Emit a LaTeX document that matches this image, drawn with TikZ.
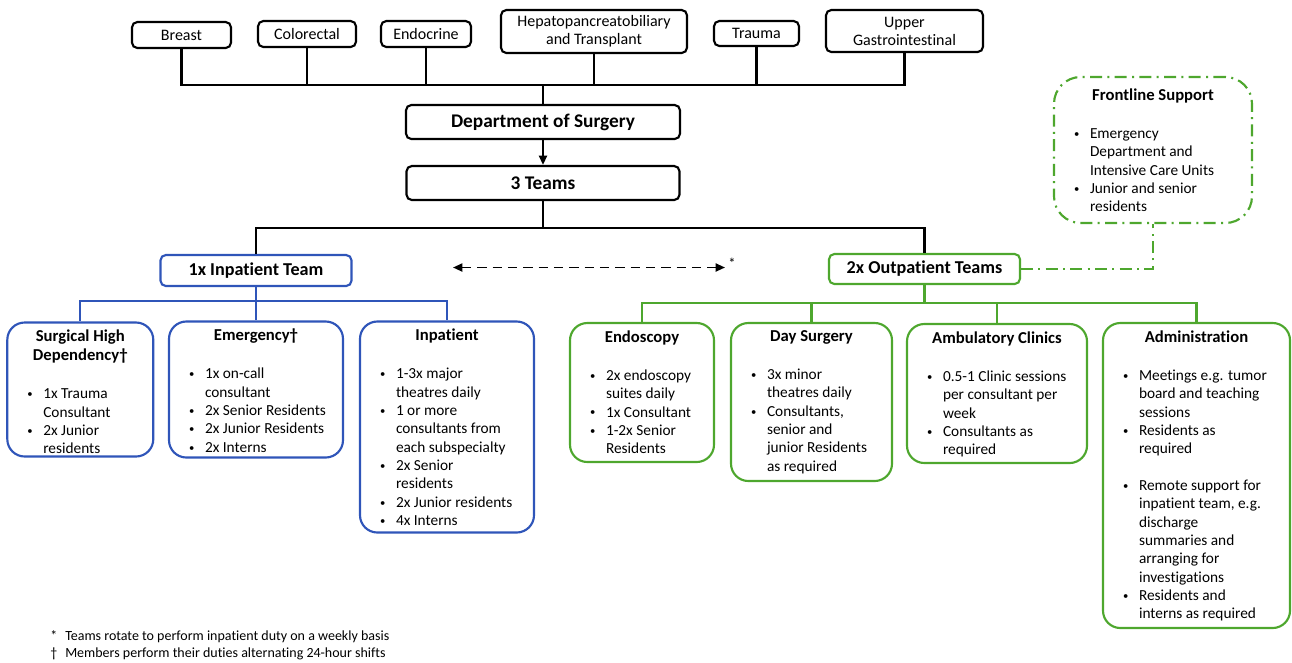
\documentclass[tikz,border=0pt]{standalone}
\usepackage{fontspec}
\setmainfont{Carlito}[Ligatures=NoCommon]
\usetikzlibrary{arrows.meta}
\definecolor{inblue}{RGB}{47,85,185}
\definecolor{outgreen}{RGB}{78,167,46}
\newdimen\px \px=0.75pt
\newcommand{\bu}{\makebox[16\px][l]{\raisebox{0.8pt}{\fontsize{8}{8}\selectfont\textbullet}}&}
% width, height, title, bullet rows
\newcommand{\unitbox}[4]{\parbox[c][#2\px][t]{#1\px}{\vspace*{1pt}\centering\fontsize{12.5}{14.25}\selectfont\bfseries #3\par
  \vspace{15pt}\raggedright\fontsize{11.5}{13.75}\selectfont\mdseries
  \begin{tabular}[t]{@{\hspace{14\px}}l@{}l@{}}#4\end{tabular}}}
\tikzset{
  link/.style={line width=1.6pt},
  inlink/.style={link, draw=inblue},
  outlink/.style={link, draw=outgreen},
  frontlink/.style={outlink, dash pattern=on 9pt off 4pt on 1.5pt off 4pt},
  spec/.style={draw, line width=1.6pt, rounded corners=4pt, align=center, inner sep=0pt, font=\fontsize{12}{13.5}\selectfont},
  head/.style={draw, line width=1.6pt, rounded corners=4pt, minimum height=34\px, font=\fontsize{14.5}{16}\selectfont\bfseries},
  teamin/.style={draw=inblue, line width=1.6pt, rounded corners=4pt, minimum width=191\px, minimum height=31\px, font=\fontsize{13.6}{15}\selectfont\bfseries},
  teamout/.style={teamin, draw=outgreen, minimum height=30\px},
  inunit/.style={draw=inblue, line width=1.6pt, rounded corners=13pt, inner sep=6\px},
  outunit/.style={inunit, draw=outgreen},
}
\begin{document}
\begin{tikzpicture}[x=0.75pt, y=-0.75pt, font=\fontsize{11.5}{13.75}\selectfont]
\useasboundingbox (0,0) rectangle (1292,662);

% subspecialties
\foreach \i/\x/\y/\w/\h/\t in {1/181.5/35/99/26/Breast, 2/307/34/98/26/Colorectal,
    3/426/34/90/26/Endocrine, 4/594/31.5/186/43/{Hepatopancreatobiliary\\and Transplant},
    5/756.5/33.5/85/25/Trauma, 6/904.5/31/157/42/{Upper\\Gastrointestinal}} {
  \node[spec, minimum width=\w\px, minimum height=\h\px] (S\i) at (\x,\y) {\t};
}
\coordinate (bus) at (543,85);
\foreach \i in {1,...,6} {
  \draw[link] (S\i.south) |- (bus);
}

\node[head, minimum width=274\px] (dept) at (543,122) {Department of Surgery};
\node[head, minimum width=273\px] (teams) at (543,183) {3 Teams};
\draw[link] (bus) -- (dept.north);
\draw[link, -{Triangle[length=7pt, width=6pt]}] (dept) -- (teams);

\node[teamin] (inp) at (256,270.5) {1x Inpatient Team};
\node[teamout] (outp) at (924.5,269) {2x Outpatient Teams};
\coordinate (split) at (543,228);
\draw[link] (teams) -- (split);
\draw[link] (split) -| (inp.north);
\draw[link] (split) -| (outp.north);

% rotation between teams
\coordinate (rl) at (453,267.5);
\coordinate (rr) at (725,267.5);
\draw[line width=1.4pt, dash pattern=on 7pt off 4.5pt, {Triangle[length=7pt, width=6pt]}-{Triangle[length=7pt, width=6pt]}] (rl) -- (rr);
\node[font=\fontsize{11}{11}\selectfont, inner sep=0pt] (star) at (732,263) {*};

% inpatient units
\node[inunit] (shd) at (80.3,389.5) {\unitbox{134}{122}{Surgical High\\Dependency†}{%
  \bu 1x Trauma\\ & Consultant\\ \bu 2x Junior\\ & residents}};
\node[inunit] (emer) at (256,389.5) {\unitbox{162}{124}{Emergency†}{%
  \bu 1x on-call\\ & consultant\\ \bu 2x Senior Residents\\ \bu 2x Junior Residents\\ \bu 2x Interns}};
\node[inunit] (inpt) at (447,427) {\unitbox{162}{199}{Inpatient}{%
  \bu 1-3x major\\ & theatres daily\\ \bu 1 or more\\ & consultants from\\ & each subspecialty\\
  \bu 2x Senior\\ & residents\\ \bu 2x Junior residents\\ \bu 4x Interns}};
\coordinate (bbus) at (256,301);
\draw[inlink] (inp) -- (bbus);
\foreach \n in {shd,emer,inpt} {
  \draw[inlink] (bbus) -| (\n.north);
}

% outpatient units
\node[outunit] (endo) at (642,392.5) {\unitbox{132}{127}{Endoscopy}{%
  \bu 2x endoscopy\\ & suites daily\\ \bu 1x Consultant\\ \bu 1-2x Senior\\ & Residents}};
\node[outunit] (day) at (811.5,402) {\unitbox{149}{146}{Day Surgery}{%
  \bu 3x minor\\ & theatres daily\\ \bu Consultants,\\ & senior and\\ & junior Residents\\ & as required}};
\node[outunit] (amb) at (997,393.5) {\unitbox{168}{127}{Ambulatory Clinics}{%
  \bu 0.5-1 Clinic sessions\\ & per consultant per\\ & week\\ \bu Consultants as\\ & required}};
\node[outunit] (admin) at (1196.5,475.5) {\unitbox{175}{293}{Administration}{%
  \bu Meetings e.g. tumor\\ & board and teaching\\ & sessions\\ \bu Residents as\\ & required\\[13.75pt]
  \bu Remote support for\\ & inpatient team, e.g.\\ & discharge\\ & summaries and\\ & arranging for\\
  & investigations\\ \bu Residents and\\ & interns as required}};
\coordinate (gbus) at (924.5,303);
\draw[outlink] (outp) -- (gbus);
\foreach \n in {endo,day,amb,admin} {
  \draw[outlink] (gbus) -| (\n.north);
}

% frontline support
\node[outunit, rounded corners=20pt, dash pattern=on 9pt off 4pt on 1.5pt off 4pt] (front) at (1153,150) {\unitbox{186}{134}{\vspace*{3pt}Frontline Support}{%
  \bu Emergency\\ & Department and\\ & Intensive Care Units\\ \bu Junior and senior\\ & residents}};
\draw[frontlink] (outp.east) -| (front.south);

% footnotes
\node[anchor=north west, inner sep=0pt, font=\fontsize{10.5}{12.75}\selectfont] (notes) at (50,628.5) {\begin{tabular}{@{}l@{}l@{}}
  \makebox[15\px][l]{*} & Teams rotate to perform inpatient duty on a weekly basis\\
  \makebox[15\px][l]{†} & Members perform their duties alternating 24-hour shifts
\end{tabular}};
\end{tikzpicture}
\end{document}
